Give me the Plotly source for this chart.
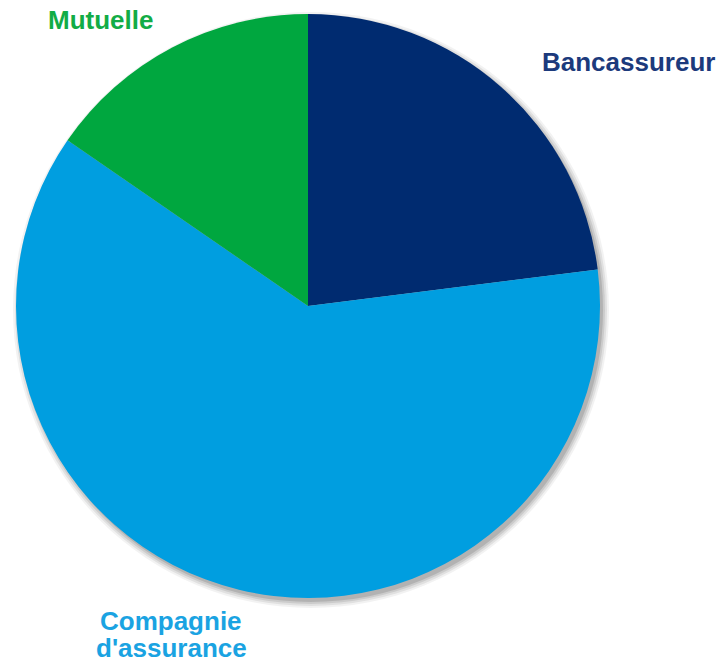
import plotly.graph_objects as go

# Market share by type of insurer (clockwise from 12 o'clock)
labels = ["Bancassureur", "Compagnie d'assurance", "Mutuelle"]
shares = [23, 61.6, 15.4]
slice_colors = ["#002B70", "#009EE0", "#00A73F"]
text_colors = ["#1C3A7C", "#1AA3E2", "#12AC46"]

W, H = 725, 663
cx, cy, r = 308, 306, 292  # pie centre and radius in pixels


def px_x(x):
    return x / W


def px_y(y):
    return 1 - y / H


fig = go.Figure(
    go.Pie(
        labels=labels,
        values=shares,
        sort=False,
        direction="clockwise",
        rotation=0,
        marker=dict(colors=slice_colors, line=dict(width=0)),
        textinfo="none",
        hoverinfo="label+percent",
        showlegend=False,
        domain=dict(x=[px_x(cx - r), px_x(cx + r)], y=[px_y(cy + r), px_y(cy - r)]),
    )
)

# soft drop shadow behind the pie, built from stacked translucent discs
shapes = []
for grow, alpha in [(6, 0.05), (4, 0.07), (2, 0.09), (0, 0.12)]:
    ox, oy = cx + 3, cy + 4
    rr = r + grow
    shapes.append(
        dict(
            type="circle",
            xref="paper",
            yref="paper",
            x0=px_x(ox - rr),
            x1=px_x(ox + rr),
            y0=px_y(oy + rr),
            y1=px_y(oy - rr),
            fillcolor=f"rgba(0,0,0,{alpha})",
            line=dict(width=0),
            layer="below",
        )
    )

font_family = "Liberation Sans, Arial, sans-serif"


def label(text, x, y, color):
    return dict(
        text=f"<b>{text}</b>",
        x=px_x(x),
        y=px_y(y),
        xref="paper",
        yref="paper",
        xanchor="center",
        yanchor="middle",
        showarrow=False,
        font=dict(family=font_family, size=26, color=color),
    )


first, second = labels[1].split(" ", 1)
annotations = [
    label(labels[0], 628, 62, text_colors[0]),
    label(first, 171, 621, text_colors[1]),
    label(second, 171, 648, text_colors[1]),
    label(labels[2], 101, 20, text_colors[2]),
]

fig.update_layout(
    width=W,
    height=H,
    margin=dict(l=0, r=0, t=0, b=0),
    paper_bgcolor="white",
    plot_bgcolor="white",
    shapes=shapes,
    annotations=annotations,
)

fig.write_html("out.html")
